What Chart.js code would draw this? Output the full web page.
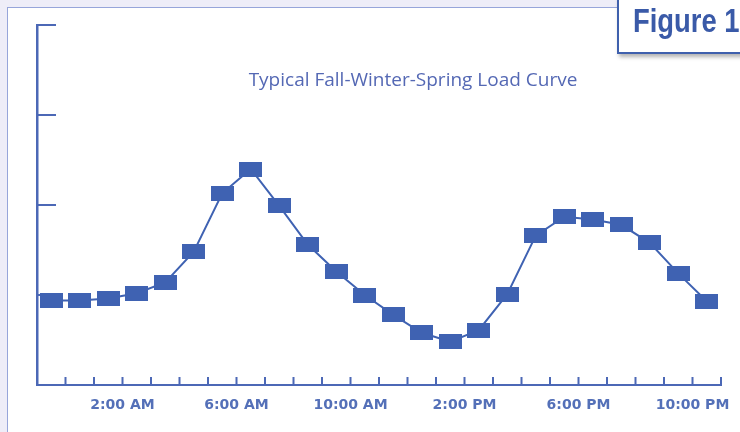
<!DOCTYPE html>
<html>
<head>
<meta charset="utf-8">
<script src="https://cdn.jsdelivr.net/npm/chart.js@4.4.1/dist/chart.umd.min.js"></script>
<style>
  html, body { margin: 0; padding: 0; }
  body { width: 740px; height: 432px; background: #eeedf8; position: relative; overflow: hidden; }
  .panel { position: absolute; left: 7px; top: 7px; width: 760px; height: 450px; background: #fff; border: 1.5px solid #97a5da; }
  .figure-box { position: absolute; left: 617px; top: -4px; width: 140px; height: 54px; background: #fff; border: 2px solid #3f60ad; box-shadow: 2px 3px 4px rgba(0,0,0,0.3); }
  .figure-box span { position: absolute; left: 14px; top: 6px; font: bold 33px/33px "Liberation Sans", sans-serif; color: #3a5aa8; white-space: nowrap; transform: scaleX(0.83); transform-origin: left top; }
  .chart-title { position: absolute; left: 213px; top: 66px; width: 400px; text-align: center; font: 19px/26px "Open Sans", sans-serif; color: #5468b4; white-space: nowrap; }
  #wrap { position: absolute; left: 0; top: 0; width: 740px; height: 432px; }
</style>
</head>
<body>
<div class="panel"></div>
<div id="wrap"><canvas id="loadChart" width="740" height="432"></canvas></div>
<div class="chart-title">Typical Fall-Winter-Spring Load Curve</div>
<div class="figure-box"><span>Figure 1</span></div>
<script>
// hourly load, one point per hour of the day (relative units)
const hourSlots = [0.5, 1.5, 2.5, 3.5, 4.5, 5.5, 6.5, 7.5, 8.5, 9.5, 10.5, 11.5,
  12.5, 13.5, 14.5, 15.5, 16.5, 17.5, 18.5, 19.5, 20.5, 21.5, 22.5, 23.5];
const loadValues = [0.94, 0.94, 0.96, 1.02, 1.14, 1.48, 2.13, 2.40, 1.99, 1.56, 1.26, 1.00,
  0.78, 0.58, 0.48, 0.61, 1.01, 1.66, 1.87, 1.84, 1.78, 1.58, 1.24, 0.93];

// x tick labels at hour boundaries
const tickLabels = { 3: '2:00 AM', 7: '6:00 AM', 11: '10:00 AM', 15: '2:00 PM', 19: '6:00 PM', 23: '10:00 PM' };
const yTicks = [1, 2, 3, 4];

const BLUE = '#3f62b2';
const AXIS = '#4c68b6';

// rectangular marker
const marker = document.createElement('canvas');
marker.width = 23;
marker.height = 15;
const mctx = marker.getContext('2d');
mctx.fillStyle = BLUE;
mctx.fillRect(0, 0, 23, 15);

const innerTicks = {
  id: 'innerTicks',
  beforeDatasetsDraw(chart) {
    const ctx = chart.ctx;
    const xs = chart.scales.x;
    const ys = chart.scales.y;
    const x0 = xs.getPixelForValue(0);
    const yb = ys.getPixelForValue(0);
    ctx.save();
    ctx.strokeStyle = AXIS;
    ctx.lineWidth = 2;
    ctx.beginPath();
    for (let h = 1; h <= 24; h++) {
      const px = xs.getPixelForValue(h);
      ctx.moveTo(px, yb);
      ctx.lineTo(px, yb - 8);
    }
    yTicks.forEach(v => {
      const py = ys.getPixelForValue(v);
      ctx.moveTo(x0 - 1, py);
      ctx.lineTo(x0 + 19, py);
    });
    ctx.stroke();
    ctx.restore();
  }
};

new Chart(document.getElementById('loadChart'), {
  type: 'line',
  data: {
    datasets: [{
      data: loadValues.map((v, i) => ({ x: hourSlots[i], y: v })),
      borderColor: BLUE,
      borderWidth: 2,
      pointStyle: marker,
      tension: 0,
      clip: false
    }]
  },
  options: {
    responsive: false,
    animation: false,
    events: [],
    layout: { padding: { left: 37, top: 25, right: 19, bottom: 0 } },
    plugins: { legend: { display: false }, tooltip: { enabled: false } },
    scales: {
      x: {
        type: 'linear',
        min: 0,
        max: 24,
        afterFit(scale) { scale.height = 47; },
        grid: { display: false, drawTicks: false },
        border: { display: true, color: AXIS, width: 2 },
        ticks: {
          stepSize: 1,
          autoSkip: false,
          maxRotation: 0,
          padding: 12,
          color: '#5470b8',
          font: { family: 'DejaVu Sans', size: 14, weight: 'bold' },
          callback: v => tickLabels[v] || ''
        }
      },
      y: {
        min: 0,
        max: 4,
        afterFit(scale) { scale.width = 0; },
        grid: { display: false, drawTicks: false },
        border: { display: true, color: AXIS, width: 2.5 },
        ticks: { display: false, stepSize: 1 }
      }
    }
  },
  plugins: [innerTicks]
});
</script>
</body>
</html>
